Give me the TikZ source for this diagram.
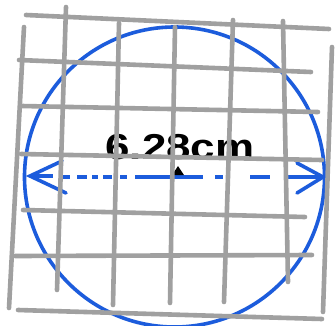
\documentclass[tikz,border=0pt]{standalone}
\usepackage{fontspec}
\newfontfamily\handfont{Liberation Sans}
\definecolor{penblue}{RGB}{28,92,220}
\definecolor{gridgray}{RGB}{160,160,160}
\tikzset{
  gridline/.style={draw=gridgray, line width=4.6pt, line cap=round},
  blueline/.style={draw=penblue, line width=3.6pt, line cap=round},
  dashseg/.style={draw=penblue, line width=4pt},
}
\begin{document}
\begin{tikzpicture}[x=1pt,y=-1pt]
\useasboundingbox[fill=white] (0,0) rectangle (335,325);
% circle
\node[draw=penblue, line width=3.6pt, circle, minimum size=300pt, inner sep=0pt] (circ) at (174.5,177) {};
% diameter arrow
\coordinate (L) at (30,176);
\coordinate (R) at (323,177);
\coordinate (La) at (62,161);
\coordinate (Lb) at (66,193);
\coordinate (Ra) at (297,163);
\coordinate (Rb) at (297,193);
\draw[blueline] (La) -- (L) -- (Lb);
\draw[blueline] (Ra) -- (R) -- (Rb);
\draw[dashseg] (L) -- (53,176);
\foreach \a/\b in {62/70,77/87,92/98,103/112,120/127,135/203,215/223,250/270,288/323}
  \draw[dashseg] (\a,176.5) -- (\b,176.5);
\fill[black] (172,175) -- (178,166) -- (184,175) -- cycle;
% label
\node[font=\handfont\bfseries\fontsize{36}{36}\selectfont, xscale=1.22, text=black, inner sep=0pt, anchor=base] (lbl) at (180,159) {6.28cm};
% grid
\draw[gridline] (26,15) -- (329,29);
\draw[gridline] (19,60) -- (311,72);
\draw[gridline] (22,106) -- (318,112);
\draw[gridline] (21,154) -- (322,160);
\draw[gridline] (23,210) -- (305,217);
\draw[gridline] (15,256) -- (312,255);
\draw[gridline] (18,310) -- (322,319);
\draw[gridline] (24,27) -- (9,308);
\draw[gridline] (66,7) -- (57,290);
\draw[gridline] (119,23) -- (113,305);
\draw[gridline] (175,27) -- (170,303);
\draw[gridline] (233,20) -- (224,302);
\draw[gridline] (283,21) -- (288,282);
\draw[gridline] (332,47) -- (323,312);
\end{tikzpicture}
\end{document}
